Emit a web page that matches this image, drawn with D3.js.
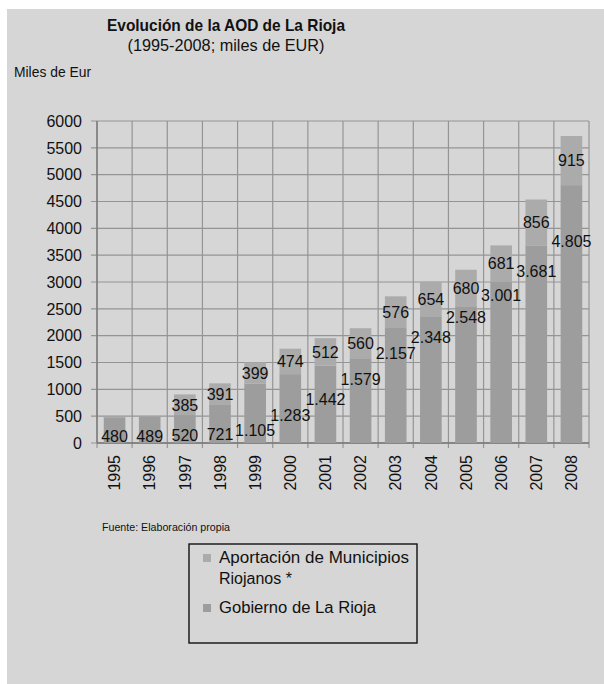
<!DOCTYPE html>
<html lang="es">
<head>
<meta charset="UTF-8">
<title>Evolución de la AOD de La Rioja</title>
<script src="https://d3js.org/d3.v7.min.js"></script>
<style>
  body { margin: 0; background: #ffffff; }
  svg text { font-family: "Liberation Sans", Arial, sans-serif; fill: #111; }
</style>
</head>
<body>
<div id="chart"></div>
<script>
// data
const years = ["1995", "1996", "1997", "1998", "1999", "2000", "2001",
               "2002", "2003", "2004", "2005", "2006", "2007", "2008"];
const gobierno = [480, 489, 520, 721, 1105, 1283, 1442, 1579, 2157, 2348, 2548, 3001, 3681, 4805];
const municipios = [0, 0, 385, 391, 399, 474, 512, 560, 576, 654, 680, 681, 856, 915];
// where the original (hand placed) labels of the lower series sit, in EUR units
const gobiernoLabelAt = [119, 119, 149, 168, 242, 521, 819, 1197, 1676, 1979, 2352, 2756, 3203, 3762];
const yTicks = d3.range(0, 6001, 500);
const seriesNames = ["Aportación de Municipios", "Gobierno de La Rioja"];

const W = 604, H = 684;
const bg = "#d6d6d6";
const colMun = "#ababab", colGob = "#9d9d9d";
const fmt = v => d3.format(",")(v).replace(/,/g, ".");

const svg = d3.select("#chart").append("svg")
    .attr("width", W).attr("height", H);

// grey panel
svg.append("rect").attr("x", 7).attr("y", 9)
    .attr("width", W - 7).attr("height", H - 9).attr("fill", bg);

const plot = { left: 97, right: 589, top: 121, bottom: 443 };

const x = d3.scaleBand().domain(years)
    .range([plot.left, plot.right])
    .paddingInner(0.385).paddingOuter(0.1925);
const y = d3.scaleLinear().domain([0, 6000]).range([plot.bottom, plot.top]);

// titles
svg.append("text").attr("x", 226).attr("y", 31).attr("text-anchor", "middle")
    .attr("font-size", 17).attr("font-weight", "bold")
    .attr("textLength", 238).attr("lengthAdjust", "spacingAndGlyphs")
    .text("Evolución de la AOD de La Rioja");
svg.append("text").attr("x", 226).attr("y", 51).attr("text-anchor", "middle")
    .attr("font-size", 17)
    .attr("textLength", 197).attr("lengthAdjust", "spacingAndGlyphs")
    .text("(1995-2008; miles de EUR)");
svg.append("text").attr("x", 14).attr("y", 77)
    .attr("font-size", 14)
    .attr("textLength", 77).attr("lengthAdjust", "spacingAndGlyphs")
    .text("Miles de Eur");

// horizontal grid
svg.append("g").selectAll("line").data(yTicks).join("line")
    .attr("x1", plot.left - 6).attr("x2", plot.right)
    .attr("y1", d => y(d)).attr("y2", d => y(d))
    .attr("stroke", "#949494").attr("stroke-width", 1.2);

// vertical grid at category boundaries
const bounds = d3.range(years.length + 1).map(i => x.range()[0] + i * x.step());
svg.append("g").selectAll("line").data(bounds).join("line")
    .attr("x1", d => d).attr("x2", d => d)
    .attr("y1", plot.top).attr("y2", plot.bottom + 5)
    .attr("stroke", "#949494").attr("stroke-width", 1.2);

// axis lines
svg.append("line").attr("x1", plot.left).attr("x2", plot.left)
    .attr("y1", plot.top).attr("y2", plot.bottom)
    .attr("stroke", "#777").attr("stroke-width", 1.3);
svg.append("line").attr("x1", plot.left).attr("x2", plot.right)
    .attr("y1", plot.bottom).attr("y2", plot.bottom)
    .attr("stroke", "#777").attr("stroke-width", 1.3);

// y tick labels
svg.append("g").selectAll("text").data(yTicks).join("text")
    .attr("x", 82).attr("y", d => y(d)).attr("dy", "0.36em")
    .attr("text-anchor", "end").attr("font-size", 16)
    .text(d => d);

// stacked bars
const bars = svg.append("g");
bars.selectAll(".gob").data(years).join("rect").attr("class", "gob")
    .attr("x", d => x(d)).attr("width", x.bandwidth())
    .attr("y", (d, i) => y(gobierno[i]))
    .attr("height", (d, i) => y(0) - y(gobierno[i]))
    .attr("fill", colGob);
bars.selectAll(".mun").data(years).join("rect").attr("class", "mun")
    .attr("x", d => x(d)).attr("width", x.bandwidth())
    .attr("y", (d, i) => y(gobierno[i] + municipios[i]))
    .attr("height", (d, i) => y(gobierno[i]) - y(gobierno[i] + municipios[i]))
    .attr("fill", colMun);

// value labels
const labels = svg.append("g").attr("font-size", 16).attr("text-anchor", "middle");
labels.selectAll(".lm").data(years.filter((d, i) => municipios[i] > 0)).join("text")
    .attr("class", "lm")
    .attr("x", d => x(d) + x.bandwidth() / 2)
    .attr("y", d => { const i = years.indexOf(d); return y(gobierno[i] + municipios[i] / 2); })
    .attr("dy", "0.36em")
    .text(d => fmt(municipios[years.indexOf(d)]));
labels.selectAll(".lg").data(years).join("text")
    .attr("class", "lg")
    .attr("x", d => x(d) + x.bandwidth() / 2)
    .attr("y", (d, i) => y(gobiernoLabelAt[i]))
    .attr("dy", "0.36em")
    .text((d, i) => fmt(gobierno[i]));

// x labels, rotated
svg.append("g").selectAll("text").data(years).join("text")
    .attr("transform", d => `translate(${x(d) + x.bandwidth() / 2},455) rotate(-90)`)
    .attr("dy", "0.36em").attr("text-anchor", "end").attr("font-size", 16)
    .text(d => d);

// source
svg.append("text").attr("x", 102).attr("y", 531).attr("font-size", 11)
    .attr("textLength", 128).attr("lengthAdjust", "spacingAndGlyphs")
    .text("Fuente: Elaboración propia");

// legend
const lg = svg.append("g").attr("font-size", 16);
lg.append("rect").attr("x", 189).attr("y", 544).attr("width", 228).attr("height", 99)
    .attr("fill", "none").attr("stroke", "#111").attr("stroke-width", 1.4);
lg.append("rect").attr("x", 203).attr("y", 554).attr("width", 8).attr("height", 8).attr("fill", colMun);
lg.append("rect").attr("x", 203).attr("y", 604).attr("width", 8).attr("height", 8).attr("fill", colGob);
lg.append("text").attr("x", 219).attr("y", 563)
    .attr("textLength", 190).attr("lengthAdjust", "spacingAndGlyphs")
    .text(seriesNames[0]);
lg.append("text").attr("x", 219).attr("y", 584)
    .text("Riojanos *");
lg.append("text").attr("x", 219).attr("y", 613)
    .attr("textLength", 157).attr("lengthAdjust", "spacingAndGlyphs")
    .text(seriesNames[1]);
</script>
</body>
</html>
